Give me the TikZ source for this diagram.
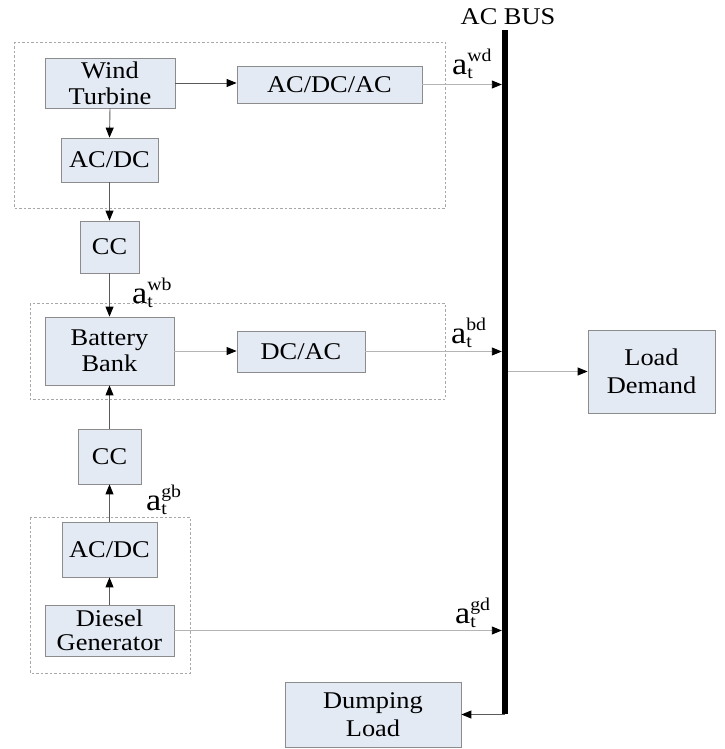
\documentclass[tikz,border=0pt]{standalone}
\usepackage{fontspec}
\setmainfont{Liberation Serif}[FakeStretch=1.1]
\usetikzlibrary{arrows.meta}
\definecolor{boxfill}{HTML}{E4EAF4}
\definecolor{boxline}{HTML}{8C8C8C}
\definecolor{wireg}{HTML}{5A5A5A}
\definecolor{wirel}{HTML}{B4B4B4}
\definecolor{groupg}{HTML}{A8A8A8}
\tikzset{
  block/.style={draw=boxline, fill=boxfill, align=center, inner sep=0pt,
                font=\fontsize{24}{26}\selectfont, line width=0.8pt},
  wh/.style 2 args={minimum width=#1pt, minimum height=#2pt},
  group/.style={draw=groupg, dash pattern=on 2.5pt off 2pt, line width=0.8pt},
  flow/.style={draw=wireg, line width=0.9pt,
               -{Triangle[length=10pt,width=8pt,color=black]}},
  hflow/.style={flow, draw=wirel},
  flowlbl/.style={anchor=base west, inner sep=0pt},
}
\newcommand{\actlbl}[1]{{\fontsize{31}{31}\selectfont a}%
  \rlap{\raisebox{13pt}{\fontsize{18}{18}\selectfont #1}}%
  \raisebox{-4pt}{\fontsize{18}{18}\selectfont t}}

\begin{document}
\begin{tikzpicture}[x=1pt, y=-1pt]
\useasboundingbox (0,0) rectangle (724,749);

% dashed subsystem frames
\draw[group] (14,42) rectangle (445,208);
\draw[group] (30,303) rectangle (445,399);
\draw[group] (30,517) rectangle (190,673);

% AC bus
\node[fill=black, inner sep=0pt, wh={6}{684}] (bus) at (505,372) {};
\node[anchor=base, font=\fontsize{24}{26}\selectfont, inner sep=0pt] (buslbl) at (508,25) {AC BUS};

% wind branch
\node[block, wh={130}{50}] (wt) at (110,83) {Wind\\Turbine};
\node[block, wh={185}{37}] (acdcac) at (329.5,84.5) {AC/DC/AC};
\node[block, wh={97}{44}] (acdcw) at (109.5,160) {AC/DC};
\node[block, wh={59}{52}] (ccw) at (109.5,247) {CC};

% battery branch
\node[block, wh={129}{68}] (bat) at (109.5,351) {Battery\\Bank};
\node[block, wh={128}{41}] (dcac) at (301,351.5) {DC/AC};

% diesel branch
\node[block, wh={63}{55}] (ccg) at (109.5,456.5) {CC};
\node[block, wh={95}{55}] (acdcg) at (109.5,549.5) {AC/DC};
\node[block, wh={129}{51}, font=\fontsize{24}{24}\selectfont] (dg) at (109.5,630.5) {Diesel\\Generator};

% loads
\node[block, wh={127}{83}, font=\fontsize{24}{28}\selectfont] (load) at (651.5,371.5) {Load\\Demand};
\node[block, wh={176}{65}, font=\fontsize{24}{28}\selectfont] (dump) at (373,714.5) {Dumping\\Load};

% connectors
\draw[flow] (wt.east) -- (wt.east -| acdcac.west);
\draw[hflow] (acdcac.east) -- (acdcac.east -| bus.west);
\draw[flow] (wt.south) -- (acdcw.north);
\draw[flow] (acdcw.south) -- (ccw.north);
\draw[flow] (ccw.south) -- (bat.north);
\draw[hflow] (bat.east) -- (bat.east -| dcac.west);
\draw[hflow] (dcac.east) -- (dcac.east -| bus.west);
\draw[flow] (ccg.north) -- (bat.south);
\draw[flow] (acdcg.north) -- (ccg.south);
\draw[flow] (dg.north) -- (acdcg.south);
\draw[hflow] (dg.east) -- (dg.east -| bus.west);
\draw[hflow] (bus.east |- load.west) -- (load.west);
\draw[flow] (bus.center |- dump.east) -- (dump.east);

% control actions
\node[flowlbl] (awd) at (452,75) {\actlbl{wd}};
\node[flowlbl] (awb) at (132,303) {\actlbl{wb}};
\node[flowlbl] (abd) at (451,343) {\actlbl{bd}};
\node[flowlbl] (agb) at (146,510) {\actlbl{gb}};
\node[flowlbl] (agd) at (455,623) {\actlbl{gd}};
\end{tikzpicture}
\end{document}
